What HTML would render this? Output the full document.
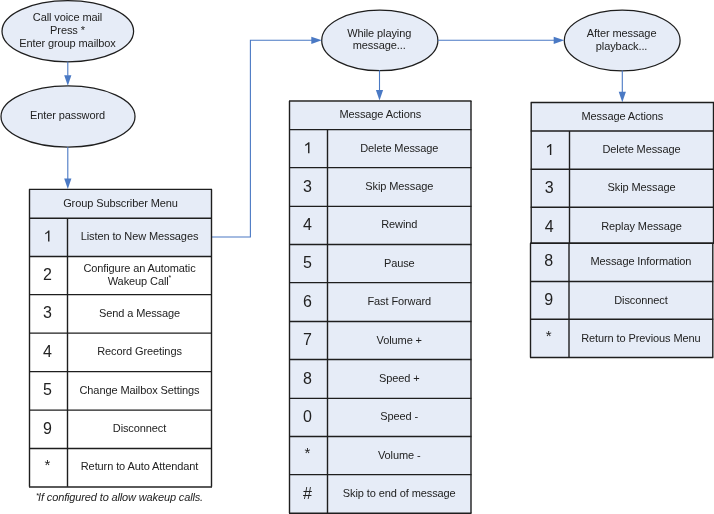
<!DOCTYPE html>
<html><head><meta charset="utf-8"><style>
html,body{margin:0;padding:0;background:#fff;width:714px;height:514px;overflow:hidden}
svg{display:block;will-change:transform}
</style></head><body>
<svg width="714" height="514" viewBox="0 0 714 514" font-family='"Liberation Sans", sans-serif' fill="#222222">
<rect width="714" height="514" fill="#ffffff"/>
<ellipse cx="67.8" cy="31.3" rx="65.8" ry="30.6" fill="#e6ecf7" stroke="#1e1e1e" stroke-width="1.25"/>
<text x="67.5" y="21" font-size="11" letter-spacing="-0.1" text-anchor="middle">Call voice mail</text>
<text x="67.5" y="33.7" font-size="11" letter-spacing="-0.1" text-anchor="middle">Press *</text>
<text x="67.5" y="46.5" font-size="11" letter-spacing="-0.1" text-anchor="middle">Enter group mailbox</text>
<ellipse cx="68" cy="116.5" rx="67" ry="30.6" fill="#e6ecf7" stroke="#1e1e1e" stroke-width="1.25"/>
<text x="67.5" y="119.2" font-size="11" letter-spacing="-0.1" text-anchor="middle">Enter password</text>
<ellipse cx="379.8" cy="40.4" rx="58.1" ry="30.3" fill="#e6ecf7" stroke="#1e1e1e" stroke-width="1.25"/>
<text x="379.2" y="36.5" font-size="11" letter-spacing="-0.1" text-anchor="middle">While playing</text>
<text x="379.2" y="49.4" font-size="11" letter-spacing="-0.1" text-anchor="middle">message...</text>
<ellipse cx="622.2" cy="40.5" rx="57.9" ry="30.4" fill="#e6ecf7" stroke="#1e1e1e" stroke-width="1.25"/>
<text x="621.6" y="36.8" font-size="11" letter-spacing="-0.1" text-anchor="middle">After message</text>
<text x="621.6" y="49.7" font-size="11" letter-spacing="-0.1" text-anchor="middle">playback...</text>
<line x1="67.8" y1="61.8" x2="67.8" y2="75.8" stroke="#4a79c4" stroke-width="1.1"/>
<path d="M64.2,75.3 L71.39999999999999,75.3 L67.8,85.8 Z" fill="#4a79c4"/>
<line x1="67.8" y1="147" x2="67.8" y2="179.0" stroke="#4a79c4" stroke-width="1.1"/>
<path d="M64.2,178.5 L71.39999999999999,178.5 L67.8,189 Z" fill="#4a79c4"/>
<line x1="379.5" y1="70.3" x2="379.5" y2="90.5" stroke="#4a79c4" stroke-width="1.1"/>
<path d="M375.9,90.0 L383.1,90.0 L379.5,100.5 Z" fill="#4a79c4"/>
<line x1="622.3" y1="70.5" x2="622.3" y2="92.2" stroke="#4a79c4" stroke-width="1.1"/>
<path d="M618.6999999999999,91.7 L625.9,91.7 L622.3,102.2 Z" fill="#4a79c4"/>
<polyline points="211.5,237 250.4,237 250.4,40.3 311.5,40.3" fill="none" stroke="#4a79c4" stroke-width="1.1"/>
<line x1="311" y1="40.3" x2="311.8" y2="40.3" stroke="#4a79c4" stroke-width="1.1"/>
<path d="M311.3,36.699999999999996 L311.3,43.9 L321.8,40.3 Z" fill="#4a79c4"/>
<line x1="438" y1="40.3" x2="554.2" y2="40.3" stroke="#4a79c4" stroke-width="1.1"/>
<path d="M553.7,36.699999999999996 L553.7,43.9 L564.2,40.3 Z" fill="#4a79c4"/>
<rect x="29.5" y="189.35" width="182.0" height="28.849999999999994" fill="#e6ecf7"/>
<rect x="29.5" y="218.2" width="182.0" height="38.30000000000001" fill="#e6ecf7"/>
<rect x="29.5" y="256.5" width="182.0" height="38.139999999999986" fill="#ffffff"/>
<rect x="29.5" y="294.64" width="182.0" height="38.460000000000036" fill="#ffffff"/>
<rect x="29.5" y="333.1" width="182.0" height="38.539999999999964" fill="#ffffff"/>
<rect x="29.5" y="371.64" width="182.0" height="38.460000000000036" fill="#ffffff"/>
<rect x="29.5" y="410.1" width="182.0" height="38.39999999999998" fill="#ffffff"/>
<rect x="29.5" y="448.5" width="182.0" height="38.339999999999975" fill="#ffffff"/>
<line x1="29.0" y1="189.35" x2="212.0" y2="189.35" stroke="#1e1e1e" stroke-width="1.4"/>
<line x1="29.0" y1="218.2" x2="212.0" y2="218.2" stroke="#1e1e1e" stroke-width="1.4"/>
<line x1="29.0" y1="256.5" x2="212.0" y2="256.5" stroke="#1e1e1e" stroke-width="1.4"/>
<line x1="29.0" y1="294.64" x2="212.0" y2="294.64" stroke="#1e1e1e" stroke-width="1.4"/>
<line x1="29.0" y1="333.1" x2="212.0" y2="333.1" stroke="#1e1e1e" stroke-width="1.4"/>
<line x1="29.0" y1="371.64" x2="212.0" y2="371.64" stroke="#1e1e1e" stroke-width="1.4"/>
<line x1="29.0" y1="410.1" x2="212.0" y2="410.1" stroke="#1e1e1e" stroke-width="1.4"/>
<line x1="29.0" y1="448.5" x2="212.0" y2="448.5" stroke="#1e1e1e" stroke-width="1.4"/>
<line x1="29.0" y1="487.0" x2="212.0" y2="487.0" stroke="#5a5a5a" stroke-width="2"/>
<line x1="29.5" y1="189.35" x2="29.5" y2="486.84" stroke="#1e1e1e" stroke-width="1.4"/>
<line x1="211.5" y1="189.35" x2="211.5" y2="486.84" stroke="#1e1e1e" stroke-width="1.4"/>
<line x1="67.5" y1="218.2" x2="67.5" y2="486.84" stroke="#1e1e1e" stroke-width="1.4"/>
<text x="120.5" y="206.7" font-size="11" letter-spacing="-0.1" text-anchor="middle">Group Subscriber Menu</text>
<path transform="translate(43.50,241.55) scale(0.007812,-0.007812)" d="M 763,0 L 583,0 L 583,1147 Q 518,1085 413,1023 Q 308,961 223,930 L 223,1104 Q 368,1172 477,1269 Q 586,1366 631,1409 L 763,1409 Z" fill="#222222"/>
<text x="139.5" y="239.95" font-size="11" letter-spacing="-0.1" text-anchor="middle">Listen to New Messages</text>
<text x="47.4" y="280.0" font-size="16" letter-spacing="0" text-anchor="middle">2</text>
<text x="139.5" y="272.2" font-size="11" letter-spacing="-0.1" text-anchor="middle">Configure an Automatic</text>
<text x="139.5" y="284.5" font-size="11" letter-spacing="-0.1" text-anchor="middle">Wakeup Call<tspan font-size="7" dy="-4.5">*</tspan></text>
<text x="47.4" y="318.4" font-size="16" letter-spacing="0" text-anchor="middle">3</text>
<text x="139.5" y="316.8" font-size="11" letter-spacing="-0.1" text-anchor="middle">Send a Message</text>
<text x="47.4" y="356.8" font-size="16" letter-spacing="0" text-anchor="middle">4</text>
<text x="139.5" y="355.2" font-size="11" letter-spacing="-0.1" text-anchor="middle">Record Greetings</text>
<text x="47.4" y="395.2" font-size="16" letter-spacing="0" text-anchor="middle">5</text>
<text x="139.5" y="393.6" font-size="11" letter-spacing="-0.1" text-anchor="middle">Change Mailbox Settings</text>
<text x="47.4" y="433.6" font-size="16" letter-spacing="0" text-anchor="middle">9</text>
<text x="139.5" y="432.0" font-size="11" letter-spacing="-0.1" text-anchor="middle">Disconnect</text>
<text x="47.4" y="469.8" font-size="15" letter-spacing="0" text-anchor="middle">*</text>
<text x="139.5" y="470.4" font-size="11" letter-spacing="-0.1" text-anchor="middle">Return to Auto Attendant</text>
<text x="36.2" y="500.8" font-size="11" font-style="italic" letter-spacing="-0.14"><tspan font-size="7.5" font-style="normal" dy="-3">*</tspan><tspan dy="3" dx="-0.9">If configured to allow wakeup calls.</tspan></text>
<rect x="289.5" y="101" width="181.5" height="28.639999999999986" fill="#e6ecf7"/>
<rect x="289.5" y="129.64" width="181.5" height="38.0" fill="#e6ecf7"/>
<rect x="289.5" y="167.64" width="181.5" height="38.71000000000001" fill="#e6ecf7"/>
<rect x="289.5" y="206.35" width="181.5" height="38.19" fill="#e6ecf7"/>
<rect x="289.5" y="244.54" width="181.5" height="38.099999999999994" fill="#e6ecf7"/>
<rect x="289.5" y="282.64" width="181.5" height="38.860000000000014" fill="#e6ecf7"/>
<rect x="289.5" y="321.5" width="181.5" height="38.04000000000002" fill="#e6ecf7"/>
<rect x="289.5" y="359.54" width="181.5" height="38.81" fill="#e6ecf7"/>
<rect x="289.5" y="398.35" width="181.5" height="38.16999999999996" fill="#e6ecf7"/>
<rect x="289.5" y="436.52" width="181.5" height="38.120000000000005" fill="#e6ecf7"/>
<rect x="289.5" y="474.64" width="181.5" height="38.65999999999997" fill="#e6ecf7"/>
<line x1="289.0" y1="101.0" x2="471.5" y2="101.0" stroke="#5a5a5a" stroke-width="2"/>
<line x1="289.0" y1="129.64" x2="471.5" y2="129.64" stroke="#1e1e1e" stroke-width="1.4"/>
<line x1="289.0" y1="167.64" x2="471.5" y2="167.64" stroke="#1e1e1e" stroke-width="1.4"/>
<line x1="289.0" y1="206.35" x2="471.5" y2="206.35" stroke="#1e1e1e" stroke-width="1.4"/>
<line x1="289.0" y1="244.54" x2="471.5" y2="244.54" stroke="#1e1e1e" stroke-width="1.4"/>
<line x1="289.0" y1="282.64" x2="471.5" y2="282.64" stroke="#1e1e1e" stroke-width="1.4"/>
<line x1="289.0" y1="321.5" x2="471.5" y2="321.5" stroke="#1e1e1e" stroke-width="1.4"/>
<line x1="289.0" y1="359.54" x2="471.5" y2="359.54" stroke="#1e1e1e" stroke-width="1.4"/>
<line x1="289.0" y1="398.35" x2="471.5" y2="398.35" stroke="#1e1e1e" stroke-width="1.4"/>
<line x1="289.0" y1="436.52" x2="471.5" y2="436.52" stroke="#1e1e1e" stroke-width="1.4"/>
<line x1="289.0" y1="474.64" x2="471.5" y2="474.64" stroke="#1e1e1e" stroke-width="1.4"/>
<line x1="289.0" y1="513.3" x2="471.5" y2="513.3" stroke="#1e1e1e" stroke-width="1.4"/>
<line x1="289.5" y1="101" x2="289.5" y2="513.3" stroke="#1e1e1e" stroke-width="1.4"/>
<line x1="471" y1="101" x2="471" y2="513.3" stroke="#1e1e1e" stroke-width="1.4"/>
<line x1="327.5" y1="129.64" x2="327.5" y2="513.3" stroke="#1e1e1e" stroke-width="1.4"/>
<text x="380.25" y="118.3" font-size="11" letter-spacing="-0.1" text-anchor="middle">Message Actions</text>
<path transform="translate(303.50,153.20) scale(0.007812,-0.007812)" d="M 763,0 L 583,0 L 583,1147 Q 518,1085 413,1023 Q 308,961 223,930 L 223,1104 Q 368,1172 477,1269 Q 586,1366 631,1409 L 763,1409 Z" fill="#222222"/>
<text x="399.25" y="151.6" font-size="11" letter-spacing="-0.1" text-anchor="middle">Delete Message</text>
<text x="307.4" y="191.6" font-size="16" letter-spacing="0" text-anchor="middle">3</text>
<text x="399.25" y="190.0" font-size="11" letter-spacing="-0.1" text-anchor="middle">Skip Message</text>
<text x="307.4" y="230.0" font-size="16" letter-spacing="0" text-anchor="middle">4</text>
<text x="399.25" y="228.4" font-size="11" letter-spacing="-0.1" text-anchor="middle">Rewind</text>
<text x="307.4" y="268.4" font-size="16" letter-spacing="0" text-anchor="middle">5</text>
<text x="399.25" y="266.8" font-size="11" letter-spacing="-0.1" text-anchor="middle">Pause</text>
<text x="307.4" y="306.8" font-size="16" letter-spacing="0" text-anchor="middle">6</text>
<text x="399.25" y="305.2" font-size="11" letter-spacing="-0.1" text-anchor="middle">Fast Forward</text>
<text x="307.4" y="345.2" font-size="16" letter-spacing="0" text-anchor="middle">7</text>
<text x="399.25" y="343.6" font-size="11" letter-spacing="-0.1" text-anchor="middle">Volume +</text>
<text x="307.4" y="383.6" font-size="16" letter-spacing="0" text-anchor="middle">8</text>
<text x="399.25" y="382.0" font-size="11" letter-spacing="-0.1" text-anchor="middle">Speed +</text>
<text x="307.4" y="422.0" font-size="16" letter-spacing="0" text-anchor="middle">0</text>
<text x="399.25" y="420.4" font-size="11" letter-spacing="-0.1" text-anchor="middle">Speed -</text>
<text x="307.4" y="458.2" font-size="15" letter-spacing="0" text-anchor="middle">*</text>
<text x="399.25" y="458.8" font-size="11" letter-spacing="-0.1" text-anchor="middle">Volume -</text>
<text x="307.4" y="498.8" font-size="16" letter-spacing="0" text-anchor="middle">#</text>
<text x="399.25" y="497.2" font-size="11" letter-spacing="-0.1" text-anchor="middle">Skip to end of message</text>
<rect x="531.2" y="102.5" width="182.29999999999995" height="28.5" fill="#e6ecf7"/>
<rect x="531.2" y="131" width="182.29999999999995" height="38.19999999999999" fill="#e6ecf7"/>
<rect x="531.2" y="169.2" width="182.29999999999995" height="38.0" fill="#e6ecf7"/>
<rect x="531.2" y="207.2" width="182.29999999999995" height="36.0" fill="#e6ecf7"/>
<line x1="530.7" y1="102.5" x2="714.0" y2="102.5" stroke="#1e1e1e" stroke-width="1.4"/>
<line x1="530.7" y1="131" x2="714.0" y2="131" stroke="#1e1e1e" stroke-width="1.4"/>
<line x1="530.7" y1="169.2" x2="714.0" y2="169.2" stroke="#1e1e1e" stroke-width="1.4"/>
<line x1="530.7" y1="207.2" x2="714.0" y2="207.2" stroke="#1e1e1e" stroke-width="1.4"/>
<line x1="530.7" y1="243.2" x2="714.0" y2="243.2" stroke="#1e1e1e" stroke-width="1.4"/>
<line x1="531.2" y1="102.5" x2="531.2" y2="243.2" stroke="#1e1e1e" stroke-width="1.4"/>
<line x1="713.5" y1="102.5" x2="713.5" y2="243.2" stroke="#1e1e1e" stroke-width="1.4"/>
<line x1="569.5" y1="131" x2="569.5" y2="243.2" stroke="#1e1e1e" stroke-width="1.4"/>
<text x="622.35" y="119.95" font-size="11" letter-spacing="-0.1" text-anchor="middle">Message Actions</text>
<path transform="translate(545.35,154.90) scale(0.007812,-0.007812)" d="M 763,0 L 583,0 L 583,1147 Q 518,1085 413,1023 Q 308,961 223,930 L 223,1104 Q 368,1172 477,1269 Q 586,1366 631,1409 L 763,1409 Z" fill="#222222"/>
<text x="641.5" y="153.3" font-size="11" letter-spacing="-0.1" text-anchor="middle">Delete Message</text>
<text x="549.25" y="193.0" font-size="16" letter-spacing="0" text-anchor="middle">3</text>
<text x="641.5" y="191.4" font-size="11" letter-spacing="-0.1" text-anchor="middle">Skip Message</text>
<text x="549.25" y="231.5" font-size="16" letter-spacing="0" text-anchor="middle">4</text>
<text x="641.5" y="229.9" font-size="11" letter-spacing="-0.1" text-anchor="middle">Replay Message</text>
<rect x="530.5" y="243.2" width="182.29999999999995" height="38.30000000000001" fill="#e6ecf7"/>
<rect x="530.5" y="281.5" width="182.29999999999995" height="37.69999999999999" fill="#e6ecf7"/>
<rect x="530.5" y="319.2" width="182.29999999999995" height="38.30000000000001" fill="#e6ecf7"/>
<line x1="530.0" y1="243.2" x2="713.3" y2="243.2" stroke="#1e1e1e" stroke-width="1.4"/>
<line x1="530.0" y1="281.5" x2="713.3" y2="281.5" stroke="#1e1e1e" stroke-width="1.4"/>
<line x1="530.0" y1="319.2" x2="713.3" y2="319.2" stroke="#1e1e1e" stroke-width="1.4"/>
<line x1="530.0" y1="357.5" x2="713.3" y2="357.5" stroke="#1e1e1e" stroke-width="1.4"/>
<line x1="530.5" y1="243.2" x2="530.5" y2="357.5" stroke="#1e1e1e" stroke-width="1.4"/>
<line x1="712.8" y1="243.2" x2="712.8" y2="357.5" stroke="#1e1e1e" stroke-width="1.4"/>
<line x1="569" y1="243.2" x2="569" y2="357.5" stroke="#1e1e1e" stroke-width="1.4"/>
<text x="548.65" y="266.35" font-size="16" letter-spacing="0" text-anchor="middle">8</text>
<text x="640.9" y="264.75" font-size="11" letter-spacing="-0.1" text-anchor="middle">Message Information</text>
<text x="548.65" y="305.15" font-size="16" letter-spacing="0" text-anchor="middle">9</text>
<text x="640.9" y="303.55" font-size="11" letter-spacing="-0.1" text-anchor="middle">Disconnect</text>
<text x="548.65" y="340.95" font-size="15" letter-spacing="0" text-anchor="middle">*</text>
<text x="640.9" y="341.55" font-size="11" letter-spacing="-0.1" text-anchor="middle">Return to Previous Menu</text>
</svg>
</body></html>
